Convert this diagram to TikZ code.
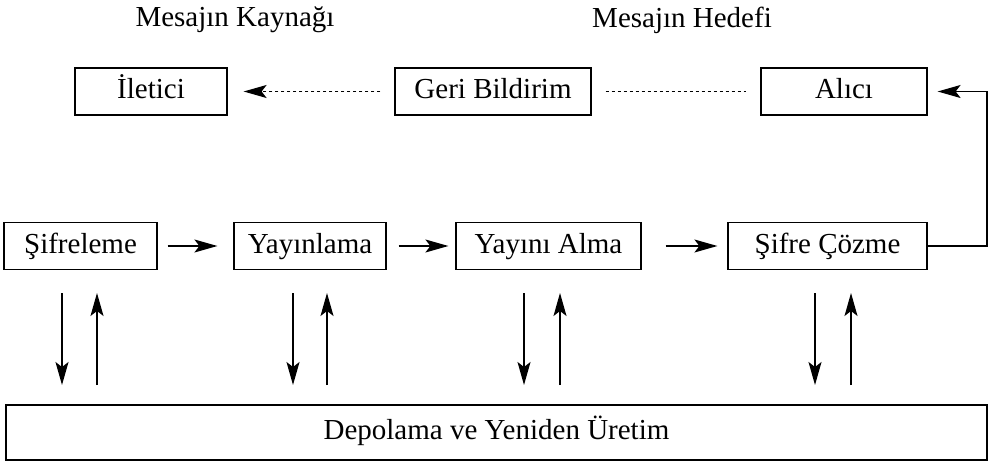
\documentclass[tikz,border=0pt]{standalone}
\usepackage{fontspec}
\setmainfont{Liberation Serif}
\usetikzlibrary{arrows.meta}
\begin{document}
\begin{tikzpicture}[x=1pt,y=-1pt,
  box/.style={draw,line width=1.2pt,inner sep=0pt,text height=20pt,text depth=6pt,font=\fontsize{29}{32}\selectfont},
  arr/.style={line width=1.2pt,-{Stealth[length=23pt,width=13pt,inset=5pt]}},
  dsh/.style={line width=1pt,dash pattern=on 3.5pt off 2.5pt},
  lbl/.style={font=\fontsize{29}{32}\selectfont}]
\useasboundingbox (0,0) rectangle (992,470);
% top
\node[lbl] (src) at (235,20) {Mesajın Kaynağı};
\node[lbl] (dst) at (682,20) {Mesajın Hedefi};
\node[box,minimum width=152pt,minimum height=47pt] (ilet) at (151,91.5) {İletici};
\node[box,minimum width=196pt,minimum height=47pt] (geri) at (493,91.5) {Geri Bildirim};
\node[box,minimum width=166pt,minimum height=47pt] (alici) at (844,91.5) {Alıcı};
% middle
\node[box,minimum width=153pt,minimum height=47pt] (sif) at (80.5,246) {Şifreleme};
\node[box,minimum width=152pt,minimum height=47pt] (yay) at (310,246) {Yayınlama};
\node[box,minimum width=185pt,minimum height=47pt] (alma) at (548.5,246) {Yayını Alma};
\node[box,minimum width=199pt,minimum height=47pt] (coz) at (827.5,246) {Şifre Çözme};
% bottom
\node[box,minimum width=981pt,minimum height=55pt] (dep) at (496.5,432.5) {Depolama ve Yeniden Üretim};
% feedback dashed
\draw[dsh,arr] ([xshift=-14pt]geri.west) -- ([xshift=16pt]ilet.east);
\draw[dsh] ([xshift=14pt]geri.east) -- ([xshift=-14pt]alici.west);
% horizontal arrows
\draw[arr] ([xshift=10pt]sif.east) -- ([xshift=-16pt]yay.west);
\draw[arr] ([xshift=12pt]yay.east) -- ([xshift=-7pt]alma.west);
\draw[arr] ([xshift=24pt]alma.east) -- ([xshift=-10pt]coz.west);
% to Alici
\coordinate (c1) at (987,246);
\coordinate (c2) at (987,91.5);
\draw[arr] (coz.east) -- (c1) -- (c2) -- ([xshift=10pt]alici.east);
% vertical arrows
\foreach \n/\a/\b in {sif/62/97,yay/293/327,alma/524/560,coz/815/851}{
  \coordinate (\n-dt) at (\a,293);
  \coordinate (\n-db) at (\a,385);
  \coordinate (\n-ut) at (\b,293);
  \coordinate (\n-ub) at (\b,385);
  \draw[arr] (\n-dt) -- (\n-db);
  \draw[arr] (\n-ub) -- (\n-ut);
}
\end{tikzpicture}
\end{document}
